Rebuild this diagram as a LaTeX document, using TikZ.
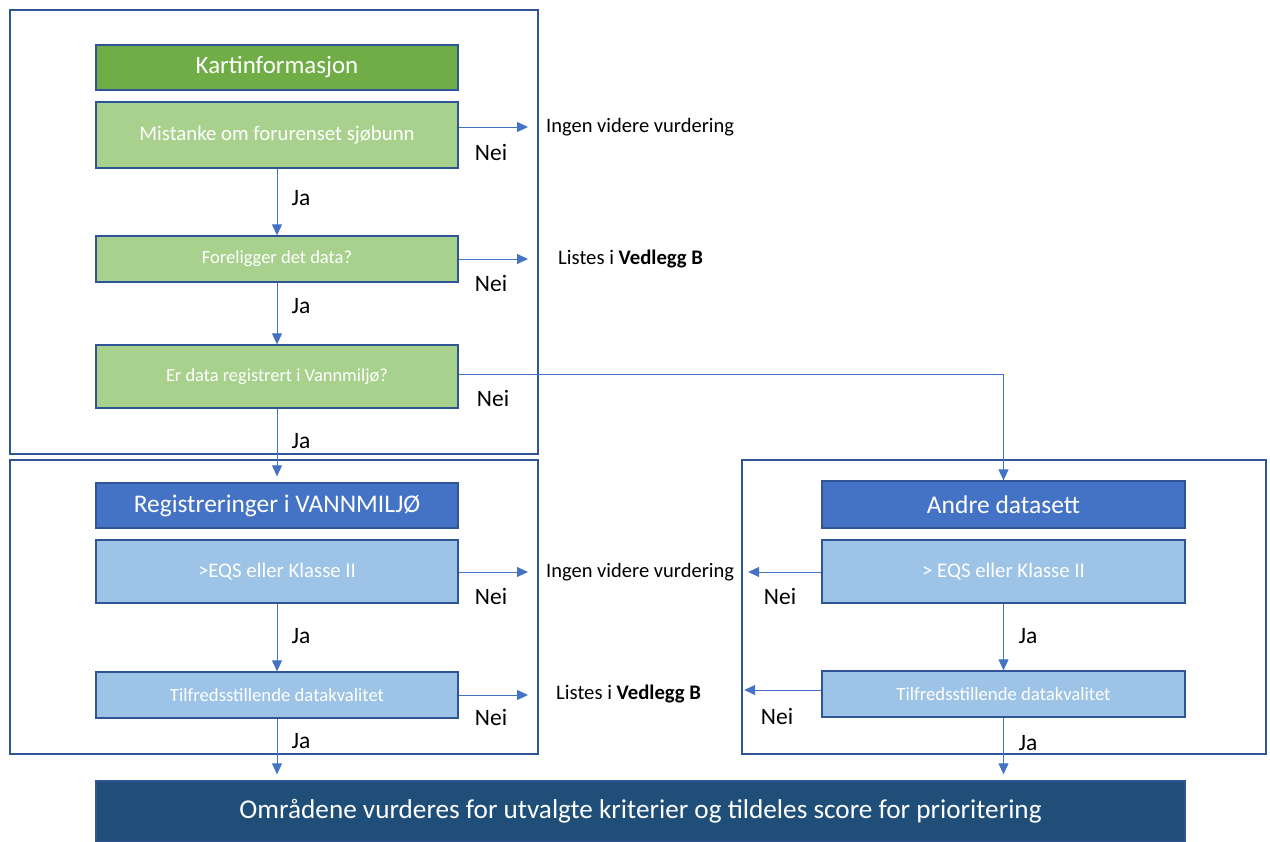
\documentclass[tikz,border=0pt]{standalone}
\usepackage{fontspec}
\setmainfont{Carlito}
\usetikzlibrary{arrows.meta}
\definecolor{rammeblaa}{HTML}{2F5597}
\definecolor{moerkgroenn}{HTML}{70AD47}
\definecolor{lysgroenn}{HTML}{A9D18E}
\definecolor{blaa}{HTML}{4472C4}
\definecolor{lysblaa}{HTML}{9DC3E6}
\definecolor{marine}{HTML}{1F4E79}

\begin{document}
\begin{tikzpicture}[x=1pt,y=-1pt,
  ramme/.style={draw=rammeblaa,line width=1.5pt},
  boks/.style={draw=rammeblaa,line width=1.3pt,minimum width=362pt,text=white,inner sep=0pt},
  pil/.style={draw=blaa,line width=0.9pt,-{Triangle[length=11pt,width=10pt]}},
  svar/.style={font=\fontsize{23.5}{25}\selectfont,inner sep=0pt}]
\useasboundingbox (0,0) rectangle (1270,842);
% rammer
\draw[ramme] (10,10) rectangle (538,454);
\draw[ramme] (10,460) rectangle (538,754);
\draw[ramme] (742,460) rectangle (1266,754);
% venstre kolonne
\node[boks,fill=moerkgroenn,minimum height=45pt,font=\fontsize{24.9}{26}\selectfont] (kart) at (277,67.5) {Kartinformasjon};
\node[boks,fill=lysgroenn,minimum height=66pt,font=\fontsize{20.8}{22}\selectfont] (mistanke) at (277,135) {Mistanke om forurenset sjøbunn};
\node[boks,fill=lysgroenn,minimum height=46pt,font=\fontsize{18.5}{20}\selectfont] (data) at (277,259) {Foreligger det data?};
\node[boks,fill=lysgroenn,minimum height=63pt,font=\fontsize{18.4}{20}\selectfont] (reg) at (277,376.5) {Er data registrert i Vannmiljø?};
\node[boks,fill=blaa,minimum height=45pt,font=\fontsize{25.4}{27}\selectfont] (vannmiljo) at (277,505.5) {Registreringer i VANNMILJØ};
\node[boks,fill=lysblaa,minimum height=63pt,font=\fontsize{20.8}{22}\selectfont] (eqsv) at (277,571.5) {>EQS eller Klasse II};
\node[boks,fill=lysblaa,minimum height=46pt,font=\fontsize{18.7}{20}\selectfont] (kvalv) at (277,695) {Tilfredsstillende datakvalitet};
% hoyre kolonne
\node[boks,fill=blaa,minimum width=363pt,minimum height=47pt,font=\fontsize{25.5}{27}\selectfont] (andre) at (1003.5,504.5) {Andre datasett};
\node[boks,fill=lysblaa,minimum width=363pt,minimum height=63pt,font=\fontsize{20.8}{22}\selectfont] (eqsh) at (1003.5,571.5) {> EQS eller Klasse II};
\node[boks,fill=lysblaa,minimum width=363pt,minimum height=46pt,font=\fontsize{18.7}{20}\selectfont] (kvalh) at (1003.5,694) {Tilfredsstillende datakvalitet};
% resultat
\node[boks,fill=marine,minimum width=1089pt,minimum height=61pt,font=\fontsize{27.2}{29}\selectfont] (score) at (640.5,811.5) {Områdene vurderes for utvalgte kriterier og tildeles score for prioritering};
% utfall
\node[inner sep=0pt,anchor=west,font=\fontsize{20.5}{22}\selectfont] (ingen1) at (546,127) {Ingen videre vurdering};
\node[inner sep=0pt,anchor=west,font=\fontsize{20.7}{22}\selectfont] (listes1) at (558,259) {Listes i \textbf{Vedlegg B}};
\node[inner sep=0pt,anchor=west,font=\fontsize{20.5}{22}\selectfont] (ingen2) at (546,572) {Ingen videre vurdering};
\node[inner sep=0pt,anchor=west,font=\fontsize{20.7}{22}\selectfont] (listes2) at (556,694) {Listes i \textbf{Vedlegg B}};
% piler
\draw[pil] (mistanke.east |- ingen1.west) -- ([xshift=-18pt]ingen1.west);
\draw[pil] (data.east) -- ([xshift=-30pt]listes1.west |- data.east);
\draw[pil] (mistanke.south) -- (data.north);
\draw[pil] (data.south) -- (reg.north);
\draw[pil] (reg.east |- 0,374) -| (andre.north);
\draw[pil] (reg.south) -- ([yshift=6pt]vannmiljo.north);
\draw[pil] (eqsv.east |- ingen2.west) -- ([xshift=-18pt]ingen2.west);
\draw[pil] (eqsv.south) -- (kvalv.north);
\draw[pil] (kvalv.east) -- ([xshift=-28pt]listes2.west |- kvalv.east);
\draw[pil] (kvalv.south) -- ([yshift=6pt]kvalv.south |- score.north);
\draw[pil] (eqsh.west |- ingen2.east) -- ([xshift=14pt]ingen2.east);
\draw[pil] (eqsh.south) -- (kvalh.north);
\draw[pil] ([yshift=4pt]kvalh.west) -- ([xshift=43pt,yshift=4pt]listes2.east |- kvalh.west);
\draw[pil] (kvalh.south) -- ([yshift=6pt]score.north -| kvalh.south);
% svar
\node[svar] (nei1) at (491,152) {Nei};
\node[svar] (nei2) at (491,283) {Nei};
\node[svar] (nei3) at (493,398) {Nei};
\node[svar] (nei4) at (491,596) {Nei};
\node[svar] (nei5) at (491,717) {Nei};
\node[svar] (nei6) at (780,596) {Nei};
\node[svar] (nei7) at (777,716) {Nei};
\node[svar] (ja1) at (301,198) {Ja};
\node[svar] (ja2) at (301,306) {Ja};
\node[svar] (ja3) at (301,441) {Ja};
\node[svar] (ja4) at (301,636) {Ja};
\node[svar] (ja5) at (301,741) {Ja};
\node[svar] (ja6) at (1028,636) {Ja};
\node[svar] (ja7) at (1028,743) {Ja};
\end{tikzpicture}
\end{document}
